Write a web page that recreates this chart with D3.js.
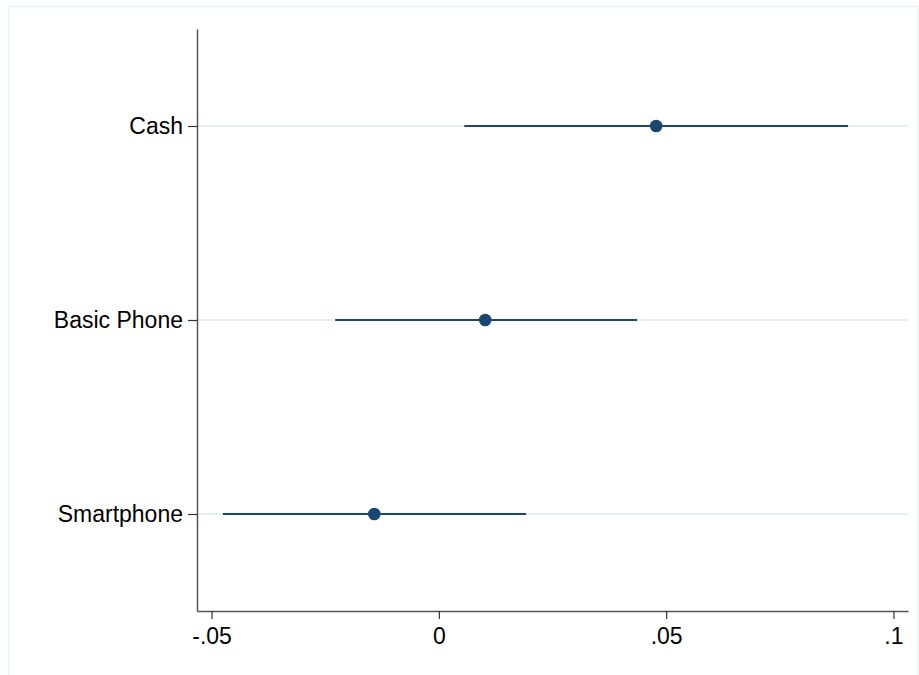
<!DOCTYPE html>
<html>
<head>
<meta charset="utf-8">
<script src="https://cdn.jsdelivr.net/npm/d3@7"></script>
<style>
  body { margin: 0; background: #fff; }
  text { font-family: "Liberation Sans", Arial, Helvetica, sans-serif; }
</style>
</head>
<body>
<svg id="coef_plot" width="919" height="675"></svg>
<script>
const categories = ["Cash", "Basic Phone", "Smartphone"];
const estimates = [0.0478, 0.0102, -0.0142];
const ciLow = [0.0056, -0.0228, -0.0475];
const ciHigh = [0.0900, 0.0436, 0.0192];
const xTicks = [-0.05, 0, 0.05, 0.1];
const xTickLabels = ["-.05", "0", ".05", ".1"];

const svg = d3.select("#coef_plot");

// outer graph region border
svg.append("rect")
    .attr("x", 8.5).attr("y", 6.5)
    .attr("width", 909.5).attr("height", 680)
    .attr("fill", "#fff")
    .attr("stroke", "#e8f0f2")
    .attr("stroke-width", 1.5);

const x = d3.scaleLinear().domain([-0.0532, 0.1032]).range([197, 908]);
const y = d3.scalePoint().domain(categories).range([29, 611]).padding(0.5);

const data = categories.map((c, i) => ({cat: c, est: estimates[i], lo: ciLow[i], hi: ciHigh[i]}));

// gridlines
svg.append("g")
    .selectAll("line")
    .data(categories)
    .join("line")
    .attr("x1", 197).attr("x2", 908)
    .attr("y1", d => y(d)).attr("y2", d => y(d))
    .attr("stroke", "#e8f0f2")
    .attr("stroke-width", 2);

// x axis
const xAxis = svg.append("g")
    .attr("transform", "translate(0,611)")
    .call(d3.axisBottom(x).tickValues(xTicks).tickSize(8).tickPadding(9)
        .tickFormat((d, i) => xTickLabels[i]).tickSizeOuter(0));
xAxis.select(".domain").attr("stroke", "#555").attr("stroke-width", 1.5);
xAxis.selectAll(".tick line").attr("stroke", "#333").attr("stroke-width", 1.2);
xAxis.selectAll(".tick text").attr("font-size", 23).attr("fill", "#000");

// y axis
const yAxis = svg.append("g")
    .attr("transform", "translate(197,0)")
    .call(d3.axisLeft(y).tickSize(9).tickPadding(5).tickSizeOuter(0));
yAxis.select(".domain").attr("stroke", "#555").attr("stroke-width", 1.5);
yAxis.selectAll(".tick line").attr("stroke", "#333").attr("stroke-width", 1.2);
yAxis.selectAll(".tick text").attr("font-size", 23).attr("fill", "#000");

// confidence intervals
svg.append("g")
    .selectAll("line")
    .data(data)
    .join("line")
    .attr("x1", d => x(d.lo)).attr("x2", d => x(d.hi))
    .attr("y1", d => y(d.cat)).attr("y2", d => y(d.cat))
    .attr("stroke", "#1a476f")
    .attr("stroke-width", 2);

// point estimates
svg.append("g")
    .selectAll("circle")
    .data(data)
    .join("circle")
    .attr("cx", d => x(d.est))
    .attr("cy", d => y(d.cat))
    .attr("r", 6.3)
    .attr("fill", "#1a476f");
</script>
</body>
</html>
